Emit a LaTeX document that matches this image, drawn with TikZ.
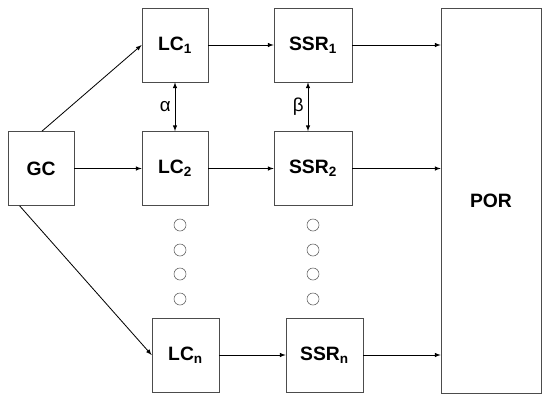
\documentclass[tikz,border=0pt]{standalone}
\usepackage{fontspec}
\setmainfont{Liberation Sans}

\begin{document}
\begin{tikzpicture}[x=0.03cm,y=-0.03cm,
    box/.style={draw=black!70,line width=0.6pt,inner sep=0pt,font=\fontsize{16.5}{19}\selectfont\bfseries},
    dot/.style={draw=black!60,circle,inner sep=0pt,minimum size=0.36cm,line width=0.5pt},
    arr/.style={-latex,line width=0.7pt}]
  \useasboundingbox (0,0) rectangle (552,409);
  % controllers
  \node[box,minimum width=1.98cm,minimum height=2.22cm] (GC)   at (41,168.5)  {GC};
  \node[box,minimum width=1.98cm,minimum height=2.22cm] (LC1)  at (175,45)    {LC\textsubscript{1}};
  \node[box,minimum width=1.98cm,minimum height=2.22cm] (LC2)  at (175,168.5) {LC\textsubscript{2}};
  \node[box,minimum width=2.01cm,minimum height=2.22cm] (LCn)  at (185.5,355) {LC\textsubscript{n}};
  % regulators
  \node[box,minimum width=2.34cm,minimum height=2.22cm] (SSR1) at (313,45)    {SSR\textsubscript{1}};
  \node[box,minimum width=2.34cm,minimum height=2.22cm] (SSR2) at (313,168.5) {SSR\textsubscript{2}};
  \node[box,minimum width=2.31cm,minimum height=2.22cm] (SSRn) at (324.5,355) {SSR\textsubscript{n}};
  \node[box,minimum width=3.0cm,minimum height=11.55cm]  (POR)  at (491,200.5) {POR};
  % dots
  \foreach \i/\y in {1/225,2/250,3/274,4/299} {
    \node[dot] (la\i) at (180,\y) {};
    \node[dot] (sa\i) at (313,\y) {};
  }
  % connections
  \draw[arr] (GC.north) ++(1,0) -- (LC1.west);
  \draw[arr] (GC) -- (LC2);
  \draw[arr] (GC.south west) ++(12,0) -- (LCn.west);
  \draw[arr] (LC1) -- (SSR1);
  \draw[arr] (LC2) -- (SSR2);
  \draw[arr] (LCn) -- (SSRn);
  \draw[arr] (SSR1) -- (SSR1 -| POR.west);
  \draw[arr] (SSR2) -- (SSR2 -| POR.west);
  \draw[arr] (SSRn) -- (SSRn -| POR.west);
  \draw[latex-latex,line width=0.7pt] (LC1) -- (LC2) node[midway,left,font=\fontsize{16}{19}\selectfont] (alpha) {α};
  \draw[latex-latex,line width=0.7pt] ([xshift=-5*0.03cm]SSR1.south) -- ([xshift=-5*0.03cm]SSR2.north) node[midway,left,font=\fontsize{16}{19}\selectfont] (beta) {β};
\end{tikzpicture}
\end{document}
